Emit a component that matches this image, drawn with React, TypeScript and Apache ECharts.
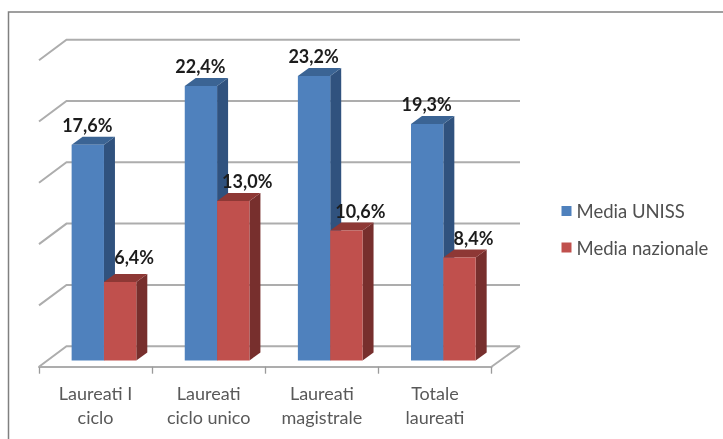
import React, { useEffect, useRef } from "react";
import * as echarts from "echarts";

const categories = ["Laureati I\nciclo", "Laureati\nciclo unico", "Laureati\nmagistrale", "Totale\nlaureati"];
const mediaUniss = [17.6, 22.4, 23.2, 19.3];
const mediaNazionale = [6.4, 13.0, 10.6, 8.4];
const wallTicks = [0, 5, 10, 15, 20, 25];

const FONT = "Lato, Carlito, 'Open Sans', sans-serif";
const GRID_COLOR = "#adadad";
const WALL_DX = 27.5;
const WALL_DY = -20.5;
const PLANE_DX = 8.4;
const PLANE_DY = -6.2;
const BAR_DX = 11;
const BAR_DY = -8;

const fmt = (v: number) => v.toFixed(1).replace(".", ",") + "%";

function barSeries(
  name: string,
  values: number[],
  side: number,
  front: string,
  top: string,
  right: string,
  labelDx: number,
  labelDy: (v: number) => number
) {
  return {
    type: "custom",
    name,
    coordinateSystem: "cartesian2d",
    clip: false,
    z: 5,
    itemStyle: { color: front },
    encode: { x: 0, y: 1 },
    data: values.map((v, i) => [i, v]),
    renderItem: (_: any, api: any) => {
      const cat = api.value(0);
      const val = api.value(1);
      const base = api.coord([cat, 0]);
      const peak = api.coord([cat, val]);
      const w = api.size([1, 0])[0] * 0.2858;
      const x0 = base[0] + PLANE_DX + (side < 0 ? -w : 0);
      const x1 = x0 + w;
      const yb = base[1] + PLANE_DY;
      const yt = peak[1] + PLANE_DY;
      return {
        type: "group",
        children: [
          {
            type: "polygon",
            shape: { points: [[x1, yb], [x1 + BAR_DX, yb + BAR_DY], [x1 + BAR_DX, yt + BAR_DY], [x1, yt]] },
            style: { fill: right },
          },
          {
            type: "polygon",
            shape: { points: [[x0, yt], [x0 + BAR_DX, yt + BAR_DY], [x1 + BAR_DX, yt + BAR_DY], [x1, yt]] },
            style: { fill: top },
          },
          {
            type: "rect",
            shape: { x: x0, y: yt, width: w, height: yb - yt },
            style: { fill: front },
          },
          {
            type: "text",
            z2: 20,
            x: (x0 + x1) / 2 + labelDx,
            y: yt + labelDy(val),
            style: {
              text: fmt(val),
              fill: "#1c1c1c",
              font: `bold 18px ${FONT}`,
              align: "center",
              verticalAlign: "middle",
            },
          },
        ],
      };
    },
  };
}

export default function App() {
  const ref = useRef<HTMLDivElement>(null);
  useEffect(() => {
    const chart = echarts.init(ref.current!, undefined, { renderer: "svg" });
    chart.setOption({
      animation: false,
      backgroundColor: "#ffffff",
      grid: { left: 39, top: 60.2, width: 452.5, height: 306.5, containLabel: false },
      xAxis: {
        type: "category",
        data: categories,
        boundaryGap: true,
        axisLine: { show: true, lineStyle: { color: GRID_COLOR, width: 2 } },
        axisTick: { show: true, inside: false, length: 7, alignWithLabel: false, lineStyle: { color: "#9a9a9a", width: 1.3 } },
        axisLabel: { color: "#595959", fontFamily: FONT, fontSize: 18, lineHeight: 23.5, margin: 15, interval: 0 },
      },
      yAxis: {
        type: "value",
        min: 0,
        max: 25,
        interval: 5,
        axisLine: { show: false },
        axisTick: { show: false },
        axisLabel: { show: false },
        splitLine: { show: false },
      },
      legend: {
        orient: "vertical",
        left: 561.5,
        top: 201.5,
        padding: 0,
        itemWidth: 10,
        itemHeight: 10,
        itemGap: 17.5,
        icon: "rect",
        data: ["Media UNISS", "Media nazionale"],
        textStyle: { color: "#505050", fontFamily: FONT, fontSize: 18.5 },
      },
      graphic: [
        {
          type: "polyline",
          shape: { points: [[8.5, 439], [8.5, 12], [723, 12]] },
          style: { stroke: "#808080", lineWidth: 1.5, fill: "none" },
          silent: true,
        },
      ],
      series: [
        {
          type: "custom",
          name: "griglia",
          coordinateSystem: "cartesian2d",
          clip: false,
          z: 1,
          silent: true,
          encode: { x: 0, y: 1 },
          data: wallTicks.map((v) => [0, v]),
          renderItem: (params: any, api: any) => {
            const val = api.value(1);
            const y = api.coord([0, val])[1];
            const x0 = params.coordSys.x;
            const x1 = params.coordSys.x + params.coordSys.width;
            const children: any[] = [
              {
                type: "polyline",
                shape: { points: [[x0, y], [x0 + WALL_DX, y + WALL_DY], [x1 + WALL_DX + 1, y + WALL_DY]] },
                style: { stroke: GRID_COLOR, lineWidth: 2, fill: "none" },
              },
            ];
            if (val === 0) {
              children.push({
                type: "line",
                shape: { x1, y1: y, x2: x1 + WALL_DX + 1, y2: y + WALL_DY },
                style: { stroke: GRID_COLOR, lineWidth: 2 },
              });
            }
            return { type: "group", children };
          },
        },
        barSeries("Media UNISS", mediaUniss, -1, "#4f81bd", "#3b6494", "#30527e", -0.5, () => -20),
        barSeries("Media nazionale", mediaNazionale, 1, "#c0504d", "#8e3835", "#772f2d", 14, (v) => (v < 7 ? -25 : -20)),
      ],
    });
    return () => chart.dispose();
  }, []);
  return (
    <div
      ref={ref}
      style={{ position: "fixed", left: 0, top: 0, width: 723, height: 439, filter: "blur(0.6px)" }}
    />
  );
}
